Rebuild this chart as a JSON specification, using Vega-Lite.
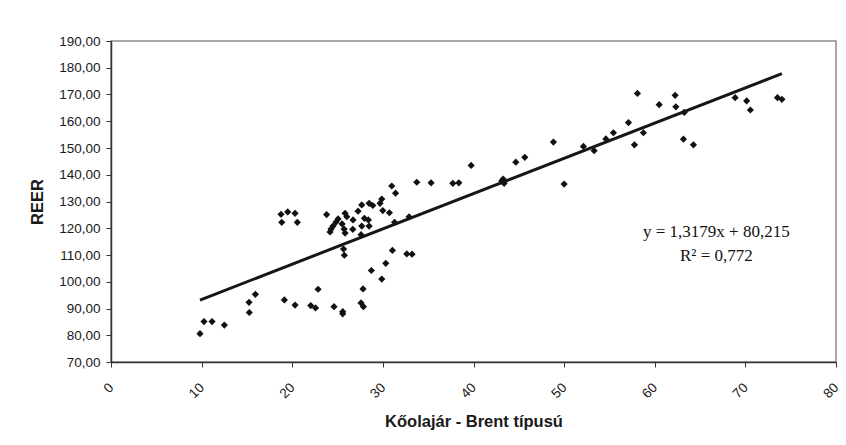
{
  "$schema": "https://vega.github.io/schema/vega-lite/v6.json",
  "width": 725,
  "height": 321,
  "autosize": {"type": "none"},
  "padding": {"left": 111, "top": 41, "right": 10, "bottom": 83},
  "background": "#ffffff",
  "config": {
    "font": "Liberation Sans",
    "view": {"stroke": "#8c8c8c", "strokeWidth": 1.5},
    "axis": {
      "grid": false,
      "domainColor": "#333333",
      "domainWidth": 1.5,
      "tickColor": "#333333",
      "tickSize": 5,
      "labelColor": "#1a1a1a",
      "labelFont": "Liberation Sans",
      "labelFontSize": 13.5,
      "labelFlush": false,
      "titleFont": "Liberation Sans",
      "titleFontSize": 16.5,
      "titleFontWeight": "bold",
      "titleColor": "#1a1a1a"
    }
  },
  "datasets": {
    "observations": [
      {"brent": 9.82, "reer": 80.6},
      {"brent": 10.26, "reer": 85.1},
      {"brent": 11.15, "reer": 85.1},
      {"brent": 12.51, "reer": 83.8},
      {"brent": 15.26, "reer": 88.5},
      {"brent": 15.23, "reer": 92.3},
      {"brent": 15.93, "reer": 95.3},
      {"brent": 18.76, "reer": 125.2},
      {"brent": 18.84, "reer": 122.2},
      {"brent": 19.5, "reer": 126.1},
      {"brent": 20.31, "reer": 125.6},
      {"brent": 20.56, "reer": 122.2},
      {"brent": 19.13, "reer": 93.2},
      {"brent": 20.31, "reer": 91.3},
      {"brent": 22.04, "reer": 91.1},
      {"brent": 22.57, "reer": 90.2},
      {"brent": 22.85, "reer": 97.2},
      {"brent": 24.61, "reer": 90.7},
      {"brent": 25.57, "reer": 88.8},
      {"brent": 25.57, "reer": 88.0},
      {"brent": 27.59, "reer": 92.1},
      {"brent": 27.85, "reer": 90.7},
      {"brent": 27.81, "reer": 97.3},
      {"brent": 28.73, "reer": 104.2},
      {"brent": 29.88, "reer": 101.0},
      {"brent": 30.32, "reer": 106.9},
      {"brent": 31.05, "reer": 111.7},
      {"brent": 32.64, "reer": 110.4},
      {"brent": 33.22, "reer": 110.3},
      {"brent": 23.79, "reer": 125.1},
      {"brent": 25.66, "reer": 112.2},
      {"brent": 25.75, "reer": 109.9},
      {"brent": 25.83, "reer": 125.6},
      {"brent": 26.02, "reer": 124.3},
      {"brent": 26.68, "reer": 119.6},
      {"brent": 27.26, "reer": 126.4},
      {"brent": 27.67, "reer": 128.7},
      {"brent": 28.48, "reer": 129.3},
      {"brent": 28.89, "reer": 128.5},
      {"brent": 27.67, "reer": 120.8},
      {"brent": 28.48, "reer": 120.8},
      {"brent": 27.96, "reer": 123.7},
      {"brent": 28.4, "reer": 123.1},
      {"brent": 27.59, "reer": 117.6},
      {"brent": 29.69, "reer": 129.3},
      {"brent": 29.88, "reer": 130.9},
      {"brent": 29.99, "reer": 126.6},
      {"brent": 30.72, "reer": 125.8},
      {"brent": 30.98, "reer": 135.8},
      {"brent": 31.4, "reer": 133.1},
      {"brent": 31.29, "reer": 122.2},
      {"brent": 32.89, "reer": 124.3},
      {"brent": 33.74, "reer": 137.2},
      {"brent": 35.32, "reer": 137.0},
      {"brent": 37.72, "reer": 136.8},
      {"brent": 38.38, "reer": 137.0},
      {"brent": 39.74, "reer": 143.5},
      {"brent": 43.12, "reer": 137.7},
      {"brent": 43.38, "reer": 136.8},
      {"brent": 43.27, "reer": 138.4},
      {"brent": 44.67, "reer": 144.7},
      {"brent": 45.66, "reer": 146.5},
      {"brent": 48.82, "reer": 152.2},
      {"brent": 50.0, "reer": 136.5},
      {"brent": 52.13, "reer": 150.6},
      {"brent": 53.31, "reer": 149.0},
      {"brent": 54.61, "reer": 153.4},
      {"brent": 55.44, "reer": 155.7},
      {"brent": 57.1, "reer": 159.5},
      {"brent": 57.76, "reer": 151.2},
      {"brent": 58.09, "reer": 170.4},
      {"brent": 58.75, "reer": 155.7},
      {"brent": 60.49, "reer": 166.2},
      {"brent": 62.25, "reer": 169.7},
      {"brent": 62.33, "reer": 165.4},
      {"brent": 63.25, "reer": 163.3},
      {"brent": 63.17, "reer": 153.3},
      {"brent": 64.27, "reer": 151.2},
      {"brent": 68.87, "reer": 168.8},
      {"brent": 70.14, "reer": 167.6},
      {"brent": 70.55, "reer": 164.2},
      {"brent": 73.54, "reer": 168.8},
      {"brent": 74.03, "reer": 168.2},
      {"brent": 24.28, "reer": 119.7},
      {"brent": 24.5, "reer": 120.8},
      {"brent": 24.83, "reer": 122.3},
      {"brent": 25.06, "reer": 123.5},
      {"brent": 24.17, "reer": 118.6},
      {"brent": 25.5, "reer": 121.6},
      {"brent": 25.72, "reer": 119.7},
      {"brent": 25.83, "reer": 118.2},
      {"brent": 26.71, "reer": 123.1}
    ],
    "trend": [
      {"brent": 9.82, "reer": 93.16},
      {"brent": 74.03, "reer": 177.78}
    ],
    "equation": [
      {"brent": 66.8, "reer": 118.6, "text": "y = 1,3179x + 80,215"},
      {"brent": 66.8, "reer": 109.6, "text": "R² = 0,772"}
    ]
  },
  "layer": [
    {
      "data": {"name": "observations"},
      "mark": {"type": "point", "shape": "diamond", "filled": true, "size": 52, "color": "#111111", "opacity": 1},
      "encoding": {
        "x": {
          "field": "brent",
          "type": "quantitative",
          "scale": {"domain": [0, 80], "nice": false},
          "axis": {
            "title": "Kőolajár - Brent típusú",
            "values": [0, 10, 20, 30, 40, 50, 60, 70, 80],
            "labelOverlap": false,
            "labelAngle": -45,
            "labelAlign": "right",
            "labelBaseline": "middle",
            "labelPadding": 18,
            "titlePadding": 13
          }
        },
        "y": {
          "field": "reer",
          "type": "quantitative",
          "scale": {"domain": [70, 190], "nice": false, "zero": false},
          "axis": {
            "title": "REER",
            "values": [70, 80, 90, 100, 110, 120, 130, 140, 150, 160, 170, 180, 190],
            "tickCount": 13,
            "labelOverlap": false,
            "labelBound": false,
            "labelExpr": "replace(format(datum.value, '.2f'), '.', ',')",
            "labelPadding": 6,
            "titlePadding": 13
          }
        }
      }
    },
    {
      "data": {"name": "trend"},
      "mark": {"type": "line", "color": "#161616", "strokeWidth": 3},
      "encoding": {
        "x": {"field": "brent", "type": "quantitative"},
        "y": {"field": "reer", "type": "quantitative"}
      }
    },
    {
      "data": {"name": "equation"},
      "mark": {"type": "text", "font": "Liberation Serif", "fontSize": 17, "align": "center", "baseline": "middle", "color": "#111111"},
      "encoding": {
        "x": {"field": "brent", "type": "quantitative"},
        "y": {"field": "reer", "type": "quantitative"},
        "text": {"field": "text"}
      }
    }
  ]
}
